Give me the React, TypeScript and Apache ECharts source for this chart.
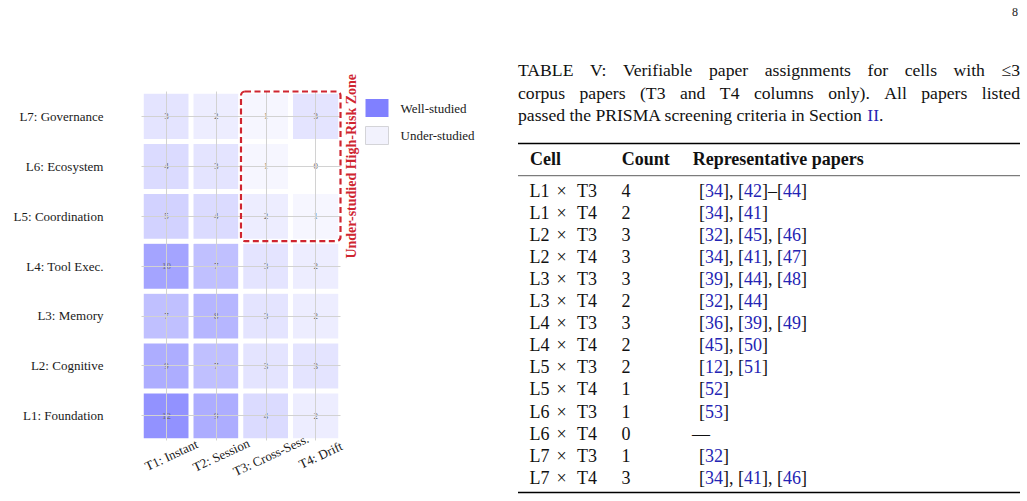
import React, { useEffect, useRef } from "react";
import * as echarts from "echarts";

const FONT = "'Liberation Serif', 'Times New Roman', serif";

// Heatmap data
const horizons = ["T1: Instant", "T2: Session", "T3: Cross-Sess.", "T4: Drift"];
const layers = [
  "L1: Foundation",
  "L2: Cognitive",
  "L3: Memory",
  "L4: Tool Exec.",
  "L5: Coordination",
  "L6: Ecosystem",
  "L7: Governance",
];
// rows L1..L7, columns T1..T4
const paperCounts = [
  [12, 9, 4, 2],
  [9, 7, 3, 3],
  [7, 8, 3, 2],
  [10, 7, 3, 2],
  [5, 4, 2, 1],
  [4, 3, 1, 0],
  [3, 2, 1, 3],
];
const legendNames = ["Well-studied", "Under-studied"];
const zoneLabel = "Under-studied High-Risk Zone";

// Table data
const captionLine1 = ["TABLE", "V:", "Verifiable", "paper", "assignments", "for", "cells", "with", "≤3"];
const captionLine2 = ["corpus", "papers", "(T3", "and", "T4", "columns", "only).", "All", "papers", "listed"];
const captionLine3 = "passed the PRISMA screening criteria in Section {b|II}.";
const tableHeader = ["Cell", "Count", "Representative papers"];
const tableLayers = ["L1", "L1", "L2", "L2", "L3", "L3", "L4", "L4", "L5", "L5", "L6", "L6", "L7", "L7"];
const tableHorizons = ["T3", "T4", "T3", "T4", "T3", "T4", "T3", "T4", "T3", "T4", "T3", "T4", "T3", "T4"];
const tableCounts = [4, 2, 3, 3, 3, 2, 3, 2, 2, 1, 1, 0, 1, 3];
const tableRefs = [
  "[34], [42]–[44]",
  "[34], [41]",
  "[32], [45], [46]",
  "[34], [41], [47]",
  "[39], [44], [48]",
  "[32], [44]",
  "[36], [39], [49]",
  "[45], [50]",
  "[12], [51]",
  "[52]",
  "[53]",
  "—",
  "[32]",
  "[34], [41], [46]",
];
const pageNumber = "8";

const BLUE = "#2424b4";
const RED = "#cf2530";

function measure(t: string, size: number, bold = false) {
  const c = document.createElement("canvas").getContext("2d");
  if (!c) return t.length * size * 0.5;
  c.font = `${bold ? "bold " : ""}${size}px 'Liberation Serif'`;
  return c.measureText(t).width;
}

export default function App() {
  const ref = useRef<HTMLDivElement>(null);

  useEffect(() => {
    if (!ref.current) return;
    const chart = echarts.init(ref.current, null, { renderer: "svg" });

    const heatData: number[][] = [];
    paperCounts.forEach((row, yi) => row.forEach((v, xi) => heatData.push([xi, yi, v])));

    const option: any = {
      animation: false,
      backgroundColor: "#ffffff",
      grid: { left: 141.5, top: 91.5, width: 199, height: 349 },
      xAxis: {
        type: "category",
        data: horizons,
        axisLine: { show: false },
        axisTick: { show: false },
        splitLine: { show: false },
        // tick labels are drawn below as rotated texts anchored on the axis' own tick positions
        axisLabel: { show: false },
      },
      yAxis: {
        type: "category",
        data: layers,
        axisLine: { show: false },
        axisTick: { show: false },
        splitLine: { show: false },
        axisLabel: { interval: 0, margin: 38, fontFamily: FONT, fontSize: 13, color: "#1a1a1a" },
      },
      visualMap: {
        show: false,
        seriesIndex: 0,
        dimension: 2,
        min: 0,
        max: 14,
        inRange: { color: ["#ffffff", "#8080ff"] },
      },
      legend: {
        orient: "vertical",
        left: 365,
        top: 99,
        padding: 0,
        itemWidth: 23,
        itemHeight: 18,
        itemGap: 9,
        icon: "rect",
        selectedMode: false,
        textStyle: { fontFamily: FONT, fontSize: 13, color: "#1a1a1a", padding: [0, 0, 0, 7] },
        data: [
          { name: legendNames[0], itemStyle: { color: "#8080ff", borderWidth: 0, opacity: 1 } },
          {
            name: legendNames[1],
            itemStyle: { color: "#f2f2fd", borderColor: "#d4d4d8", borderWidth: 1, opacity: 1 },
          },
        ],
      },
      series: [
        {
          type: "heatmap",
          data: heatData,
          itemStyle: { borderColor: "#ffffff", borderWidth: 5 },
          label: { show: true, fontFamily: FONT, fontSize: 9, color: "#6e6e6e" },
          emphasis: { disabled: true },
          markLine: {
            silent: true,
            symbol: ["none", "none"],
            label: { show: false },
            lineStyle: { color: "#d2d2d2", width: 1, type: "solid" },
            data: [...horizons.map((h) => ({ xAxis: h })), ...layers.map((l) => ({ yAxis: l }))],
          },
        },
        { type: "scatter", name: legendNames[0], data: [], itemStyle: { color: "#8080ff", opacity: 1 } },
        {
          type: "scatter",
          name: legendNames[1],
          data: [],
          itemStyle: { color: "#f2f2fd", borderColor: "#d4d4d8", borderWidth: 1, opacity: 1 },
        },
      ],
    };
    chart.setOption(option);

    // Geometry from the chart's own scales
    const pA = chart.convertToPixel({ gridIndex: 0 }, [horizons[0], layers[0]]) as number[];
    const pB = chart.convertToPixel({ gridIndex: 0 }, [horizons[1], layers[1]]) as number[];
    const bandW = pB[0] - pA[0];
    const bandH = pA[1] - pB[1];
    const gridBottom = pA[1] + bandH / 2;
    const p1 = chart.convertToPixel({ gridIndex: 0 }, [horizons[2], layers[6]]) as number[];
    const p2 = chart.convertToPixel({ gridIndex: 0 }, [horizons[3], layers[4]]) as number[];
    const rx = p1[0] - bandW / 2;
    const ry = p1[1] - bandH / 2;
    const rw = p2[0] - p1[0] + bandW;
    const rh = p2[1] - p1[1] + bandH;

    const g: any[] = [];

    // x tick labels (rotated, centred just right of each tick), drawn above the cells
    horizons.forEach((h) => {
      const p = chart.convertToPixel({ gridIndex: 0 }, [h, layers[0]]) as number[];
      g.push({
        type: "text",
        z: 100,
        x: p[0] + 5,
        y: gridBottom + 14.5,
        rotation: (25 * Math.PI) / 180,
        style: { text: h, align: "center", verticalAlign: "middle", font: `13px ${FONT}`, fill: "#1a1a1a" },
      });
    });

    g.push({
      type: "rect",
      z: 100,
      silent: true,
      shape: { x: rx, y: ry, width: rw, height: rh, r: 4 },
      style: { fill: "none", stroke: RED, lineWidth: 2.2, lineDash: [6, 3.5] },
    });
    g.push({
      type: "text",
      z: 100,
      x: rx + rw + 10.5,
      y: ry + rh / 2,
      rotation: Math.PI / 2,
      style: {
        text: zoneLabel,
        align: "center",
        verticalAlign: "middle",
        font: `bold 14px ${FONT}`,
        fill: RED,
      },
    });

    // page number
    g.push({
      type: "text",
      style: { text: pageNumber, x: 1018, y: 12, align: "right", verticalAlign: "middle", font: `12px ${FONT}`, fill: "#222" },
    });

    // Caption
    const CAP = 17.65;
    const TAB = 18;
    const capFont = `${CAP}px ${FONT}`;
    const tabFont = `${TAB}px ${FONT}`;
    const X0 = 518;
    const X1 = 1020;
    const justify = (words: string[], y: number) => {
      const ws = words.map((w) => measure(w, CAP));
      const total = ws.reduce((a, b) => a + b, 0);
      const gap = (X1 - X0 - total) / (words.length - 1);
      let x = X0;
      words.forEach((w, i) => {
        g.push({ type: "text", style: { text: w, x, y, font: capFont, fill: "#111", verticalAlign: "middle" } });
        x += ws[i] + gap;
      });
    };
    justify(captionLine1, 70);
    justify(captionLine2, 92.5);
    g.push({
      type: "text",
      style: {
        text: captionLine3,
        x: X0,
        y: 115,
        font: capFont,
        fill: "#111",
        verticalAlign: "middle",
        rich: { b: { fill: BLUE, color: BLUE, fontSize: CAP, fontFamily: FONT } },
      },
    });

    // Table rules
    const rule = (y: number, w: number, c: string) =>
      g.push({ type: "line", shape: { x1: X0, y1: y, x2: X1, y2: y }, style: { stroke: c, lineWidth: w } });
    rule(143.5, 1.3, "#000");
    rule(175.7, 0.8, "#333");
    rule(492.5, 1.3, "#000");

    // Header
    const hFont = `bold ${TAB}px ${FONT}`;
    const headX = [530, 621.7, 692.7];
    tableHeader.forEach((h, i) =>
      g.push({ type: "text", style: { text: h, x: headX[i], y: 158.5, font: hFont, fill: "#111", verticalAlign: "middle" } })
    );

    // Rows
    const rowY0 = 190.5;
    const pitch = 22.1;
    tableLayers.forEach((l, i) => {
      const y = rowY0 + i * pitch;
      g.push({ type: "text", style: { text: l, x: 529.5, y, font: tabFont, fill: "#111", verticalAlign: "middle" } });
      g.push({
        type: "text",
        style: { text: "×", x: 561.7, y, font: tabFont, fill: "#111", verticalAlign: "middle", align: "center" },
      });
      g.push({
        type: "text",
        style: { text: tableHorizons[i], x: 577, y, font: tabFont, fill: "#111", verticalAlign: "middle" },
      });
      g.push({
        type: "text",
        style: { text: String(tableCounts[i]), x: 621.5, y, font: tabFont, fill: "#111", verticalAlign: "middle" },
      });
      const r = tableRefs[i];
      const isDash = r === "—";
      g.push({
        type: "text",
        style: {
          text: isDash ? r : r.replace(/(\d+)/g, "{b|$1}"),
          x: isDash ? 692 : 699,
          y,
          font: tabFont,
          fill: "#111",
          verticalAlign: "middle",
          rich: { b: { fill: BLUE, color: BLUE, fontSize: TAB, fontFamily: FONT } },
        },
      });
    });

    chart.setOption({ graphic: g });

    return () => chart.dispose();
  }, []);

  return <div ref={ref} style={{ position: "absolute", left: 0, top: 0, width: 1027, height: 501 }} />;
}
